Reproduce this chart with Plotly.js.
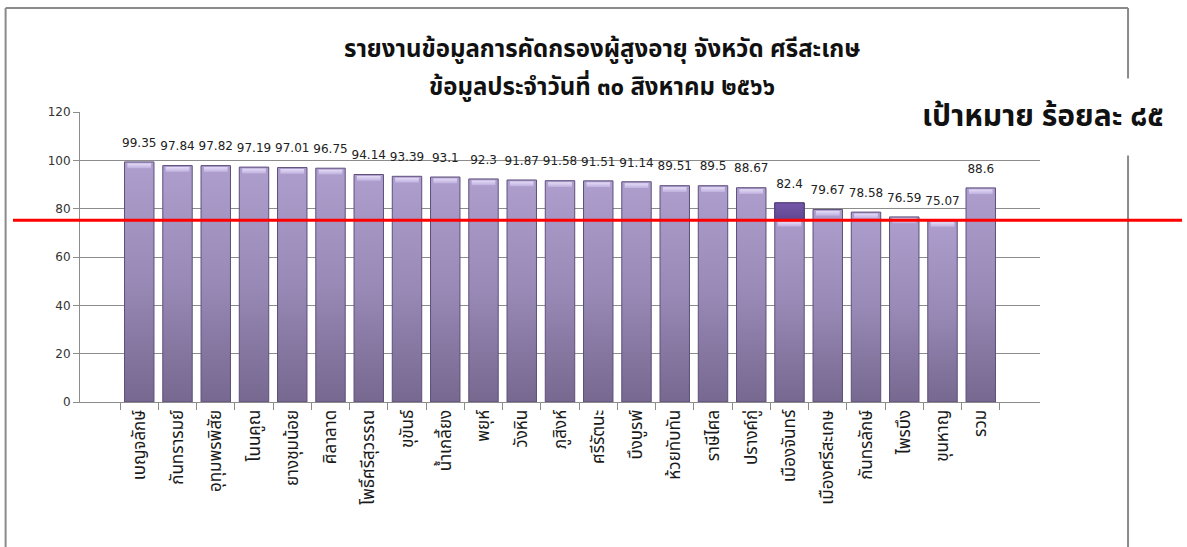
<!DOCTYPE html>
<html>
<head>
<meta charset="utf-8">
<script src="https://cdn.plot.ly/plotly-3.0.1.min.js"></script>
<style>
  html, body { margin: 0; padding: 0; background: #ffffff; }
  #chart { width: 1187px; height: 547px; }
</style>
</head>
<body>
<div id="chart"></div>
<script>
// ---- data ----
const categories = [
  'เบญจลักษ์', 'กันทรารมย์', 'อุทุมพรพิสัย', 'โนนคูณ', 'ยางชุมน้อย', 'ศิลาลาด',
  'โพธิ์ศรีสุวรรณ', 'ขุขันธ์', 'น้ำเกลี้ยง', 'พยุห์', 'วังหิน', 'ภูสิงห์',
  'ศรีรัตนะ', 'บึงบูรพ์', 'ห้วยทับทัน', 'ราษีไศล', 'ปรางค์กู่', 'เมืองจันทร์',
  'เมืองศรีสะเกษ', 'กันทรลักษ์', 'ไพรบึง', 'ขุนหาญ', 'รวม'
];
const values = [
  99.35, 97.84, 97.82, 97.19, 97.01, 96.75,
  94.14, 93.39, 93.1, 92.3, 91.87, 91.58,
  91.51, 91.14, 89.51, 89.5, 88.67, 82.4,
  79.67, 78.58, 76.59, 75.07, 88.6
];
const highlighted = ['เมืองจันทร์'];
const targetLineY = 75.2;          // where the red target line is drawn
const yTickValues = [0, 20, 40, 60, 80, 100, 120];
const titleLines = [
  'รายงานข้อมูลการคัดกรองผู้สูงอายุ จังหวัด ศรีสะเกษ',
  'ข้อมูลประจำวันที่ ๓๐ สิงหาคม ๒๕๖๖'
];
const targetLabel = 'เป้าหมาย ร้อยละ ๘๕';

// ---- derived ----
const capDepth = 2.6, capHeight = 2.0;
const capTops = categories.map((c, i) => highlighted.includes(c) ? targetLineY : values[i]);
const hlX = categories.filter(c => highlighted.includes(c));
const hlBase = hlX.map(() => targetLineY);
const hlY = hlX.map(c => values[categories.indexOf(c)] - targetLineY);

const thaiFont = '"Noto Sans Thai", "Noto Sans Thai Looped", Tahoma, "Noto Sans", "DejaVu Sans", sans-serif';
const numFont = '"DejaVu Sans", Tahoma, sans-serif';

const traces = [
  {
    type: 'bar', x: categories, y: values, width: 0.77,
    marker: { color: '#9484b3', line: { color: '#5f4f7c', width: 1 } },
    hoverinfo: 'x+y', showlegend: false
  },
  {
    type: 'bar', x: hlX, y: hlY, base: hlBase, width: 0.77,
    marker: { color: '#6a519b', line: { color: '#4e3a78', width: 1 } },
    hoverinfo: 'skip', showlegend: false
  },
  {
    type: 'bar', x: categories,
    y: capTops.map(() => capHeight),
    base: capTops.map(v => v - capDepth),
    width: 0.62,
    marker: { color: '#d6caee', line: { width: 0 } },
    hoverinfo: 'skip', showlegend: false
  },
  {
    type: 'scatter', mode: 'markers+text', x: categories, y: values,
    text: values.map(v => String(v)),
    textposition: 'top center',
    textfont: { family: numFont, size: 12, color: '#222222' },
    marker: { size: 18, opacity: 0 },
    hoverinfo: 'skip', showlegend: false, cliponaxis: false
  }
];

const titleFont = { family: thaiFont, size: 24, color: '#111111', weight: 'bold' };

const layout = {
  width: 1187, height: 547,
  margin: { l: 80, r: 147, t: 112, b: 145 },
  paper_bgcolor: '#ffffff', plot_bgcolor: '#ffffff',
  barmode: 'overlay',
  showlegend: false,
  xaxis: {
    type: 'category',
    tickangle: -90,
    tickfont: { family: thaiFont, size: 17, color: '#1a1a1a' },
    showline: true, linecolor: '#8c8c8c', linewidth: 1,
    ticks: 'outside', ticklen: 7, tickcolor: '#8c8c8c',
    tickson: 'boundaries',
    showgrid: false, fixedrange: true
  },
  yaxis: {
    range: [0, 120], tickvals: yTickValues,
    tickfont: { family: numFont, size: 12, color: '#333333' },
    showline: true, linecolor: '#8c8c8c', linewidth: 1,
    ticks: 'outside', ticklen: 6, tickcolor: '#8c8c8c',
    showgrid: true, gridcolor: '#8c8c8c', gridwidth: 1,
    zeroline: false, fixedrange: true
  },
  shapes: [
    // outer chart frame (left, top, right)
    { type: 'line', xref: 'paper', yref: 'paper', x0: -0.0775, x1: -0.0775, y0: 1.3586, y1: -0.6,
      line: { color: '#8a8a8a', width: 2 }, layer: 'above' },
    { type: 'line', xref: 'paper', yref: 'paper', x0: -0.0775, x1: 1.0917, y0: 1.3586, y1: 1.3586,
      line: { color: '#8a8a8a', width: 2 }, layer: 'above' },
    { type: 'line', xref: 'paper', yref: 'paper', x0: 1.0917, x1: 1.0917, y0: 1.3586, y1: -0.6,
      line: { color: '#8a8a8a', width: 2 }, layer: 'above' },
    // red target line
    { type: 'line', xref: 'paper', yref: 'y', x0: -0.0698, x1: 1.148, y0: targetLineY, y1: targetLineY,
      line: { color: '#ff0000', width: 3 }, layer: 'above' }
  ],
  annotations: [
    {
      text: titleLines[0], xref: 'paper', yref: 'paper',
      x: 0.544, xanchor: 'center', y: 1.214, yanchor: 'middle',
      showarrow: false, font: titleFont
    },
    {
      text: titleLines[1], xref: 'paper', yref: 'paper',
      x: 0.544, xanchor: 'center', y: 1.083, yanchor: 'middle',
      showarrow: false, font: titleFont
    },
    {
      text: targetLabel, xref: 'paper', yref: 'paper',
      x: 0.849, xanchor: 'left', y: 0.982, yanchor: 'middle',
      width: 292, height: 74, align: 'center', valign: 'middle',
      bgcolor: '#ffffff', showarrow: false,
      font: { family: thaiFont, size: 30, color: '#111111', weight: 'bold' }
    }
  ]
};

Plotly.newPlot('chart', traces, layout, { staticPlot: true, displayModeBar: false }).then(gd => {
  // vertical gradient on the bars (Excel-like shading)
  const svg = gd.querySelector('svg.main-svg');
  const ns = 'http://www.w3.org/2000/svg';
  let defs = svg.querySelector('defs');
  if (!defs) { defs = document.createElementNS(ns, 'defs'); svg.insertBefore(defs, svg.firstChild); }
  const mk = (id, stops) => {
    const g = document.createElementNS(ns, 'linearGradient');
    g.setAttribute('id', id);
    g.setAttribute('x1', '0'); g.setAttribute('y1', '0');
    g.setAttribute('x2', '0'); g.setAttribute('y2', '1');
    stops.forEach(([o, c]) => {
      const s = document.createElementNS(ns, 'stop');
      s.setAttribute('offset', o); s.setAttribute('stop-color', c);
      g.appendChild(s);
    });
    defs.appendChild(g);
  };
  mk('barGrad', [['0', '#ad9ecd'], ['0.5', '#9889b6'], ['1', '#76688f']]);
  mk('hlGrad', [['0', '#7558a8'], ['1', '#5f4690']]);
  mk('capGrad', [['0', '#e4dcf6'], ['1', '#bfb0df']]);
  const traceGroups = svg.querySelectorAll('.barlayer .trace');
  const fills = ['url(#barGrad)', 'url(#hlGrad)', 'url(#capGrad)'];
  traceGroups.forEach((t, i) => {
    t.querySelectorAll('path').forEach(p => { if (fills[i]) p.style.fill = fills[i]; });
  });
});
</script>
</body>
</html>
